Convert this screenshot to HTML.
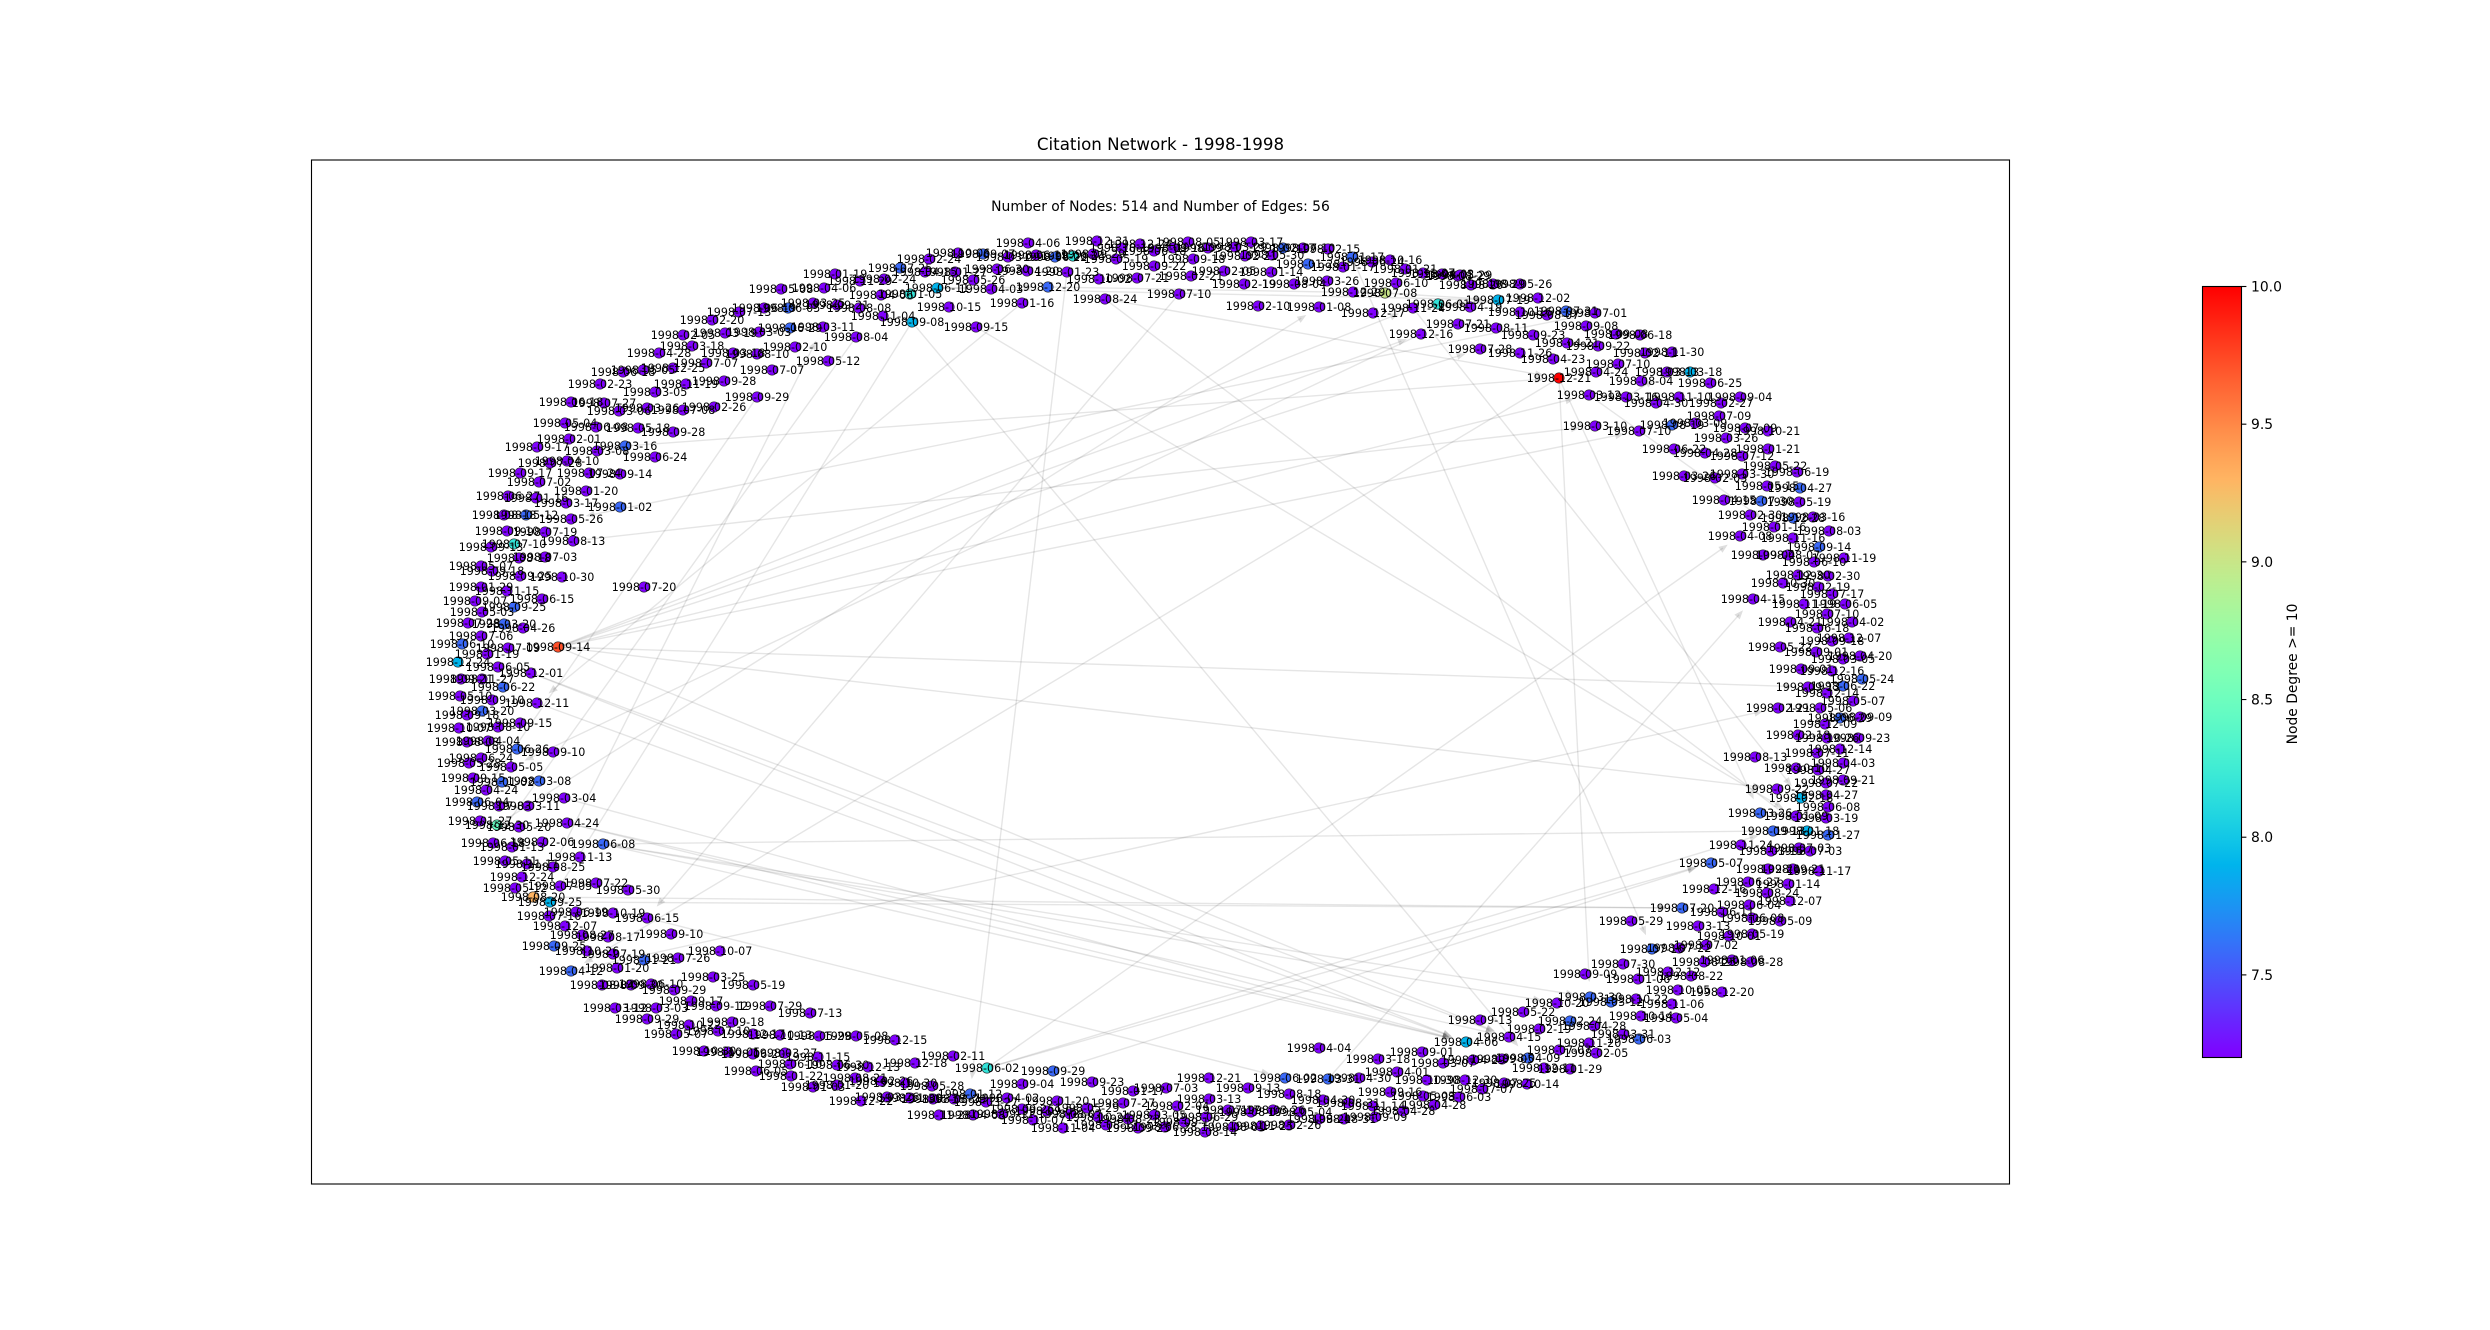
<!DOCTYPE html>
<html lang="en">
<head>
<meta charset="utf-8">
<title>Citation Network - 1998-1998</title>
<style>
html,body{margin:0;padding:0;background:#fff;width:2490px;height:1330px;overflow:hidden}
svg{display:block;font-family:"DejaVu Sans","Liberation Sans",sans-serif}
</style>
</head>
<body>
<svg id="chart" xmlns="http://www.w3.org/2000/svg" width="2490" height="1330" viewBox="0 0 2490 1330">
  <defs>
    <linearGradient id="rainbow-gradient" x1="0" y1="1" x2="0" y2="0"></linearGradient>
  </defs>
  <rect x="0" y="0" width="2490" height="1330" fill="#fff"/>
  <text x="1160.5" y="150" font-size="16.67" text-anchor="middle" fill="#000">Citation Network - 1998-1998</text>
  <text x="1160.5" y="211" font-size="13.89" text-anchor="middle" fill="#000">Number of Nodes: 514 and Number of Edges: 56</text>
  <g id="edges"></g>
  <g id="nodes"></g>
  <g id="labels"></g>
  <rect x="311.5" y="160" width="1698" height="1024" fill="none" stroke="#000" stroke-width="1.1"/>
  <g id="colorbar"></g>
  <text transform="translate(2297 674) rotate(-90)" font-size="13.89" text-anchor="middle" fill="#000">Node Degree &gt;= 10</text>
</svg>
<script>
var nodeDates = [
"1998-12-21","1998-09-14","1998-08-20","1998-06-02","1998-07-08","1998-12-30","1998-09-08","1998-06-01","1998-01-05","1998-07-10",
"1998-03-18","1998-07-19","1998-06-11","1998-12-24","1998-09-25","1998-04-06","1998-02-18","1998-01-18","1998-06-24","1998-12-20",
"1998-11-24","1998-12-16","1998-08-24","1998-09-15","1998-03-16","1998-08-13","1998-03-10","1998-05-26","1998-01-02","1998-04-12",
"1998-05-05","1998-06-08","1998-09-13","1998-03-26","1998-09-22","1998-09-13","1998-07-20","1998-05-07","1998-03-30","1998-07-16",
"1998-01-12","1998-09-29","1998-06-02","1998-03-31","1998-04-09","1998-04-08","1998-06-15","1998-12-01","1998-03-04","1998-07-20",
"1998-04-04","1998-10-20","1998-08-13","1998-02-21","1998-07-28","1998-12-02","1998-03-16","1998-03-12","1998-07-10","1998-06-10",
"1998-02-10","1998-04-15","1998-01-09","1998-07-10","1998-01-17","1998-01-23","1998-07-01","1998-01-16","1998-12-11","1998-06-04",
"1998-06-18","1998-08-04","1998-09-29","1998-04-24","1998-04-15","1998-01-08","1998-08-25","1998-03-11","1998-01-16","1998-03-13",
"1998-11-24",
"1998-04-06","1998-12-31","1998-12-24","1998-08-05","1998-03-17","1998-02-15","1998-07-10","1998-02-17","1998-10-06","1998-09-07",
"1998-03-09","1998-06-19","1998-06-22","1998-09-29","1998-10-19","1998-05-19","1998-06-18","1998-09-16","1998-09-21","1998-03-29",
"1998-02-21","1998-05-30","1998-09-18","1998-09-22","1998-02-05","1998-01-14","1998-01-28","1998-01-17","1998-06-24","1998-10-16",
"1998-01-21","1998-11-07","1998-04-02","1998-08-29","1998-01-27","1998-05-26","1998-06-30","1998-04-20","1998-04-03","1998-10-02",
"1998-07-21","1998-02-21","1998-02-19","1998-08-04","1998-03-26","1998-12-29","1998-12-17","1998-07-21","1998-10-15","1998-02-24",
"1998-07-25","1998-04-15","1998-01-19","1998-11-29","1998-02-24","1998-05-08","1998-04-06","1998-04-06","1998-03-25","1998-09-21",
"1998-06-05","1998-08-08","1998-07-13","1998-06-19","1998-11-04","1998-02-20","1998-06-29","1998-02-05","1998-03-19","1998-03-03",
"1998-03-18","1998-02-10","1998-04-28","1998-03-18","1998-08-10","1998-07-07","1998-12-25","1998-05-05","1998-06-18","1998-07-07",
"1998-05-12","1998-02-23","1998-11-19","1998-09-28","1998-03-05","1998-06-18","1998-07-27","1998-03-06","1998-03-26","1998-07-08",
"1998-02-26","1998-05-04","1998-06-08","1998-05-18","1998-09-28","1998-02-01","1998-09-17","1998-03-08","1998-06-24","1998-04-10",
"1998-07-28","1998-09-17","1998-07-24","1998-09-14","1998-07-02","1998-01-20","1998-06-27","1998-01-16","1998-03-17","1998-08-18",
"1998-05-12","1998-09-10","1998-07-19","1998-09-13","1998-08-18","1998-07-03","1998-05-07","1998-09-18","1998-09-25","1998-10-30",
"1998-01-29","1998-11-15","1998-06-15","1998-09-07","1998-09-25","1998-05-03","1998-07-28","1998-03-20","1998-04-26","1998-07-06",
"1998-06-10","1998-07-09","1998-01-19","1998-06-05","1998-09-21","1998-11-27","1998-06-22","1998-05-10","1998-09-10","1998-03-20",
"1998-09-18","1998-09-15","1998-10-07","1998-08-10","1998-08-08","1998-04-04","1998-06-26","1998-09-10","1998-06-24","1998-05-28",
"1998-09-15","1998-01-02","1998-03-08","1998-04-24","1998-07-03","1998-03-11","1998-01-27","1998-05-20","1998-01-13","1998-02-06",
"1998-11-13","1998-05-11","1998-11-11","1998-12-24","1998-05-12","1998-07-05","1998-07-22","1998-05-30","1998-06-19","1998-10-19",
"1998-07-16","1998-12-07","1998-08-27","1998-08-17","1998-09-10","1998-09-25","1998-10-26","1998-07-19","1998-01-21","1998-07-26",
"1998-10-07","1998-01-20","1998-03-25","1998-05-19","1998-08-04","1998-09-30","1998-06-10","1998-09-29","1998-09-17","1998-09-12",
"1998-07-29","1998-07-13","1998-03-12","1998-03-03","1998-09-29","1998-09-18","1998-10-22","1998-05-07","1998-07-10","1998-12-17",
"1998-10-13","1998-05-29","1998-05-08","1998-12-15","1998-10-30","1998-10-05","1998-06-20","1998-03-27","1998-11-15","1998-06-10",
"1998-06-30","1998-12-13","1998-06-05","1998-01-22","1998-08-21","1998-02-26","1998-10-30","1998-01-03","1998-01-20","1998-12-18",
"1998-02-11","1998-05-28","1998-09-04","1998-09-23","1998-07-03","1998-01-17","1998-12-21","1998-09-13","1998-08-18","1998-04-30",
"1998-08-31","1998-03-27","1998-04-02","1998-12-22","1998-03-26","1998-11-30","1998-06-18","1998-03-29","1998-01-20","1998-07-27",
"1998-03-13","1998-02-04","1998-11-28","1998-04-08","1998-09-11","1998-09-26","1998-09-05","1998-10-07","1998-08-07","1998-05-29",
"1998-11-04","1998-10-24","1998-08-23","1998-08-17","1998-03-05","1998-09-25","1998-06-28","1998-09-17","1998-06-29","1998-07-17",
"1998-08-07","1998-03-26","1998-05-04","1998-08-21","1998-08-31","1998-08-14","1998-08-01","1998-11-25","1998-02-26","1998-03-18",
"1998-09-01","1998-04-30","1998-04-01","1998-03-07","1998-04-29","1998-09-05","1998-10-30","1998-12-30","1998-07-07","1998-07-25",
"1998-10-14","1998-09-16","1998-05-03","1998-06-03","1998-04-28","1998-04-28","1998-11-14","1998-09-09","1998-09-13","1998-05-22",
"1998-02-24","1998-02-19","1998-04-28","1998-11-20","1998-03-31","1998-06-03","1998-07-07","1998-02-05","1998-01-29","1998-12-11",
"1998-03-12","1998-10-22","1998-11-06","1998-10-14","1998-05-04","1998-10-05","1998-12-20","1998-07-30","1998-09-09","1998-01-06",
"1998-12-12","1998-08-22","1998-08-25","1998-01-06","1998-08-28","1998-07-22","1998-07-02","1998-10-01","1998-05-19","1998-05-29",
"1998-03-13","1998-06-11","1998-06-08","1998-05-09","1998-06-04","1998-12-07","1998-12-16","1998-08-24","1998-06-27","1998-01-14",
"1998-02-21","1998-09-21","1998-11-17","1998-03-15","1998-07-03","1998-07-03","1998-01-27","1998-03-19","1998-06-08","1998-04-27",
"1998-07-22","1998-09-21","1998-10-10","1998-04-27","1998-04-03","1998-07-11","1998-12-14","1998-02-18","1998-10-26","1998-09-23",
"1998-12-09","1998-06-29","1998-09-09","1998-05-06","1998-05-07","1998-12-14","1998-06-22","1998-05-24","1998-09-01","1998-12-16",
"1998-03-05","1998-04-20","1998-05-22","1998-09-01","1998-09-18","1998-12-07","1998-06-18","1998-04-21","1998-04-02","1998-07-10",
"1998-11-19","1998-06-05","1998-07-17","1998-02-19","1998-10-30","1998-12-30","1998-02-30","1998-11-19","1998-06-10","1998-08-07",
"1998-09-04","1998-09-14","1998-08-03","1998-11-16","1998-12-28","1998-03-16","1998-02-30","1998-04-15","1998-07-30","1998-05-19",
"1998-05-15","1998-04-27","1998-06-19","1998-05-22","1998-03-30","1998-03-26","1998-02-03","1998-06-22","1998-04-28","1998-07-12",
"1998-01-21","1998-03-26","1998-07-09","1998-10-21","1998-08-19","1998-03-09","1998-07-09","1998-04-30","1998-11-10","1998-02-27",
"1998-09-04","1998-04-24","1998-08-04","1998-06-25","1998-07-10","1998-04-23","1998-11-26","1998-02-11","1998-11-30","1998-04-21",
"1998-09-22","1998-09-23","1998-09-08","1998-06-18","1998-08-11","1998-09-08","1998-10-16","1998-08-07","1998-07-31","1998-04-19",
"1998-05-26","1998-08-29","1998-08-20","1998-05-29"
];
var nodeX = [
559,-442,-467,-13,385,-503,-88,438,-90,-486,
690,498,-63,-542,-450,466,801,807,73,48,
413,421,105,-24,-375,-427,595,-429,-380,-429,
-489,-397,773,760,777,808,682,711,590,652,
-30,53,285,328,528,740,-353,-469,-436,-356,
319,557,755,778,480,538,626,589,639,396,
258,753,796,179,352,67,595,22,-463,-523,
-507,-144,-243,-433,509,319,-447,-177,774,667,
741,
28,97,140,188,251,328,303,283,-42,-17,
8,36,55,93,122,116,154,173,208,235,
245,272,193,154,224,271,308,343,372,390,
405,423,442,458,-45,-27,-3,27,-9,99,
137,191,244,294,327,353,373,458,-51,-71,
-100,-75,-165,-140,-116,-219,-176,-119,-187,-163,
-212,-141,-261,-236,-117,-288,-210,-317,-275,-241,
-308,-205,-341,-267,-243,-294,-327,-357,-377,-228,
-172,-400,-314,-276,-345,-429,-396,-381,-353,-317,
-286,-435,-404,-362,-327,-431,-463,-403,-345,-433,
-450,-480,-411,-380,-461,-414,-492,-464,-434,-496,
-474,-493,-455,-509,-481,-455,-519,-508,-480,-438,
-519,-493,-458,-525,-486,-518,-532,-496,-477,-519,
-538,-492,-513,-502,-539,-518,-497,-540,-508,-518,
-533,-480,-541,-502,-533,-512,-483,-447,-519,-531,
-527,-498,-461,-514,-501,-472,-520,-481,-488,-458,
-420,-495,-473,-478,-485,-440,-404,-372,-424,-387,
-451,-435,-418,-392,-329,-446,-413,-387,-356,-322,
-280,-383,-287,-247,-398,-369,-349,-326,-309,-284,
-230,-190,-385,-344,-353,-268,-311,-324,-282,-247,
-220,-181,-144,-105,-296,-272,-247,-215,-182,-210,
-163,-132,-244,-209,-145,-119,-95,-187,-163,-85,
-47,-68,22,92,166,133,209,248,289,323,
348,-14,7,-139,-113,-90,-67,-46,57,123,
209,177,-61,-27,2,22,47,33,70,87,
63,98,128,106,154,138,165,184,206,228,
251,273,300,319,344,205,233,261,289,378,
422,359,397,443,473,502,427,465,482,504,
527,390,423,459,434,403,373,375,480,523,
570,539,594,589,623,639,559,596,570,544,
611,636,672,641,676,678,722,623,585,638,
668,691,704,732,751,679,706,729,752,631,
698,722,752,780,749,790,714,767,748,788,
768,793,819,771,799,810,828,826,828,826,
826,843,796,818,843,817,840,798,827,858,
825,840,860,820,853,827,843,862,801,832,
843,860,780,816,832,849,817,790,852,827,
804,845,832,818,783,798,828,844,814,788,
763,819,829,793,793,813,750,724,761,799,
767,800,797,775,742,684,715,674,705,742,
768,726,745,768,672,695,719,656,679,721,
740,596,641,710,618,553,520,645,672,567,
598,533,616,640,496,586,520,547,566,470,
520,493,471,460
];
var nodeY = [
622,353,103,-68,707,175,678,696,706,456,
628,700,712,338,98,-42,202,169,744,713,
692,666,701,673,554,459,574,481,493,29,
233,156,169,187,211,313,92,137,3,51,
-94,-71,-78,-79,-58,464,82,327,202,413,
-48,-3,243,292,651,702,603,605,569,717,
694,401,184,706,743,728,687,697,297,198,
157,663,603,177,-37,693,133,673,473,628,
155,
757,759,756,758,758,751,752,752,747,746,
743,745,743,746,752,741,749,752,752,753,
744,745,741,734,729,728,736,733,738,740,
731,727,726,724,728,720,731,729,711,721,
722,724,716,716,719,708,687,676,693,741,
732,728,726,719,721,711,712,705,697,695,
692,692,688,692,684,680,672,665,667,668,
654,653,647,647,646,637,632,630,628,630,
639,616,616,619,608,598,597,589,592,590,
593,577,573,572,568,561,553,549,543,539,
537,527,527,526,518,509,504,502,497,485,
485,469,468,453,442,443,434,429,424,423,
413,409,401,399,393,388,377,376,372,364,
356,352,346,333,321,321,313,304,300,289,
285,277,272,273,258,259,251,248,242,237,
222,218,219,210,194,194,179,173,153,158,
143,139,136,123,112,114,117,110,88,87,
84,74,65,63,66,54,49,46,40,42,
49,32,23,15,15,15,16,10,-1,-6,
-6,-13,-8,-8,-19,-22,-25,-34,-31,-34,
-35,-36,-36,-40,-51,-52,-54,-53,-57,-64,
-65,-67,-71,-76,-78,-81,-83,-87,-85,-63,
-56,-86,-84,-82,-88,-91,-78,-88,-94,-100,
-103,-102,-98,-101,-97,-98,-99,-99,-101,-103,
-99,-106,-115,-115,-114,-109,-111,-120,-114,-108,
-128,-117,-119,-125,-115,-128,-127,-122,-117,-110,
-112,-110,-112,-119,-119,-132,-127,-126,-125,-59,
-52,-78,-72,-63,-60,-59,-80,-80,-89,-83,
-84,-92,-96,-97,-105,-111,-106,-117,-20,-12,
-21,-29,-26,-43,-34,-39,-50,-53,-69,-68,
-2,1,-4,-16,-18,10,8,36,26,21,
28,24,38,40,38,52,55,64,66,79,
74,88,82,79,95,99,111,107,118,116,
131,131,129,149,152,149,165,182,193,205,
217,220,232,230,237,247,251,265,262,262,
276,282,283,292,299,307,314,321,331,329,
341,344,353,348,359,362,372,378,378,386,
396,396,406,413,417,425,424,442,438,445,
445,453,469,462,482,483,485,500,499,498,
514,512,528,534,526,524,522,551,547,544,
551,562,572,569,575,577,584,597,603,597,
603,628,619,617,636,641,647,647,648,657,
654,665,666,665,672,674,688,685,689,693,
716,716,715,725
];
var nodeDegree = [
10,9.72,9.3,8.18,9,8.46,7.9,8.18,8.18,8.18,
7.9,7.9,7.9,7.9,7.9,7.9,7.9,7.9,8.18,7.58,
7.2,7.2,7.2,7.2,7.58,7.2,7.2,7.2,7.58,7.58,
7.2,7.58,7.58,7.58,7.2,7.2,7.58,7.58,7.58,7.58,
7.58,7.58,7.58,7.58,7.58,7.2,7.2,7.2,7.2,7.2,
7.2,7.2,7.2,7.2,7.2,7.2,7.2,7.2,7.2,7.2,
7.2,7.2,7.2,7.2,7.58,7.2,7.2,7.2,7.2,7.58,
7.2,7.2,7.2,7.2,7.2,7.2,7.2,7.2,7.2,7.2,
7.2,
7.2,7.2,7.2,7.2,7.2,7.2,7.2,7.58,7.2,7.58,
7.2,7.2,7.58,7.2,7.2,7.2,7.2,7.2,7.2,7.2,
7.2,7.2,7.2,7.2,7.2,7.2,7.58,7.2,7.2,7.2,
7.2,7.2,7.2,7.2,7.2,7.2,7.2,7.2,7.2,7.2,
7.2,7.2,7.2,7.2,7.2,7.2,7.2,7.2,7.2,7.2,
7.58,7.2,7.2,7.2,7.2,7.2,7.2,7.2,7.2,7.2,
7.58,7.2,7.2,7.2,7.2,7.2,7.58,7.2,7.2,7.2,
7.2,7.2,7.2,7.2,7.2,7.2,7.2,7.2,7.2,7.2,
7.2,7.2,7.2,7.2,7.2,7.2,7.2,7.2,7.2,7.2,
7.2,7.2,7.2,7.2,7.2,7.2,7.2,7.2,7.2,7.2,
7.2,7.2,7.2,7.2,7.2,7.2,7.2,7.2,7.2,7.2,
7.58,7.2,7.2,7.2,7.2,7.2,7.2,7.2,7.2,7.2,
7.2,7.2,7.2,7.2,7.58,7.2,7.2,7.58,7.2,7.2,
7.58,7.2,7.2,7.2,7.2,7.2,7.58,7.2,7.2,7.58,
7.2,7.2,7.2,7.2,7.2,7.2,7.58,7.2,7.2,7.2,
7.2,7.58,7.58,7.2,7.2,7.2,7.2,7.2,7.2,7.2,
7.2,7.2,7.2,7.2,7.2,7.2,7.2,7.2,7.2,7.2,
7.2,7.2,7.2,7.2,7.2,7.58,7.2,7.2,7.58,7.2,
7.2,7.2,7.2,7.2,7.2,7.2,7.2,7.2,7.2,7.2,
7.2,7.2,7.2,7.2,7.2,7.2,7.2,7.2,7.2,7.2,
7.2,7.2,7.2,7.2,7.2,7.2,7.2,7.2,7.2,7.2,
7.2,7.2,7.2,7.2,7.2,7.2,7.2,7.2,7.2,7.2,
7.2,7.2,7.2,7.2,7.2,7.2,7.2,7.2,7.2,7.2,
7.2,7.2,7.2,7.2,7.2,7.2,7.2,7.2,7.2,7.2,
7.2,7.2,7.2,7.2,7.2,7.2,7.2,7.2,7.2,7.2,
7.2,7.2,7.2,7.2,7.2,7.2,7.2,7.2,7.2,7.2,
7.2,7.2,7.2,7.2,7.2,7.2,7.2,7.2,7.2,7.2,
7.2,7.2,7.2,7.2,7.2,7.2,7.2,7.2,7.2,7.2,
7.2,7.2,7.2,7.2,7.2,7.2,7.2,7.2,7.2,7.2,
7.58,7.2,7.2,7.2,7.2,7.58,7.2,7.2,7.2,7.2,
7.58,7.2,7.2,7.2,7.2,7.2,7.2,7.2,7.2,7.2,
7.2,7.2,7.2,7.2,7.2,7.2,7.2,7.2,7.2,7.2,
7.2,7.2,7.2,7.2,7.2,7.2,7.2,7.2,7.2,7.2,
7.2,7.2,7.2,7.2,7.2,7.2,7.58,7.2,7.2,7.2,
7.2,7.2,7.2,7.2,7.2,7.2,7.2,7.2,7.2,7.2,
7.2,7.58,7.2,7.2,7.2,7.2,7.58,7.58,7.2,7.2,
7.2,7.2,7.2,7.2,7.2,7.2,7.2,7.2,7.2,7.2,
7.2,7.2,7.2,7.2,7.2,7.2,7.2,7.2,7.2,7.2,
7.2,7.58,7.2,7.2,7.58,7.2,7.2,7.2,7.58,7.2,
7.2,7.58,7.2,7.2,7.2,7.2,7.2,7.2,7.2,7.2,
7.2,7.2,7.2,7.2,7.58,7.2,7.2,7.2,7.2,7.2,
7.2,7.2,7.2,7.2,7.2,7.2,7.2,7.2,7.2,7.2,
7.2,7.2,7.2,7.2,7.2,7.2,7.2,7.2,7.58,7.2,
7.2,7.2,7.2,7.2
];
var edgeSources = [
24,22,25,1,1,1,1,1,1,0,
0,0,21,64,20,31,31,2,14,3,
3,3,41,65,46,47,48,6,43,72,
71,6,63,23,22,66,19,12,4,57,
56,67,73,5,76,73,31,1,29,11,
12,1,31,47,68,55
];
var edgeTargets = [
0,0,26,35,34,20,21,54,57,29,
38,33,30,39,16,32,51,36,36,37,
32,45,37,40,42,15,15,44,61,69,
70,14,46,62,17,27,4,19,11,78,
79,68,74,75,77,15,15,74,53,7,
11,58,38,74,15,20
];
var colorbarTicks = [7.5, 8.0, 8.5, 9.0, 9.5, 10.0];
var degreeDomain = [7.2, 10];
var xDomain = [-688.5, 1009.5];
var yDomain = [-184, 840];

var SVG_NS = "http://www.w3.org/2000/svg";
var plotBox = {left: 311.5, right: 2009.5, top: 160, bottom: 1184};
var barBox = {left: 2202.5, right: 2241.5, top: 286.5, bottom: 1057.5};

function xScale(v) {
  return plotBox.left + (v - xDomain[0]) / (xDomain[1] - xDomain[0]) * (plotBox.right - plotBox.left);
}
function yScale(v) {
  return plotBox.bottom - (v - yDomain[0]) / (yDomain[1] - yDomain[0]) * (plotBox.bottom - plotBox.top);
}
function barScale(v) {
  return barBox.bottom - (v - degreeDomain[0]) / (degreeDomain[1] - degreeDomain[0]) * (barBox.bottom - barBox.top);
}
function rainbowAt(t) {
  var r = Math.min(1, Math.abs(2 * t - 0.5));
  var g = Math.sin(Math.PI * t);
  var b = Math.cos(Math.PI * t / 2);
  return "rgb(" + Math.round(r * 255) + "," + Math.round(g * 255) + "," + Math.round(Math.max(0, b) * 255) + ")";
}
function degreeColor(d) {
  return rainbowAt((d - degreeDomain[0]) / (degreeDomain[1] - degreeDomain[0]));
}
function make(tag, attrs, parent) {
  var el = document.createElementNS(SVG_NS, tag);
  for (var k in attrs) { el.setAttribute(k, attrs[k]); }
  parent.appendChild(el);
  return el;
}

var edgeLayer = document.getElementById("edges");
var nodeLayer = document.getElementById("nodes");
var labelLayer = document.getElementById("labels");
var barLayer = document.getElementById("colorbar");

edgeSources.forEach(function (src, i) {
  var tgt = edgeTargets[i];
  var x1 = xScale(nodeX[src]), y1 = yScale(nodeY[src]);
  var x2 = xScale(nodeX[tgt]), y2 = yScale(nodeY[tgt]);
  var len = Math.sqrt((x2 - x1) * (x2 - x1) + (y2 - y1) * (y2 - y1)) || 1;
  var ux = (x2 - x1) / len, uy = (y2 - y1) / len;
  var tipX = x2 - ux * 15, tipY = y2 - uy * 15;
  var line = make("line", {
    x1: x1 + ux * 4, y1: y1 + uy * 4, x2: tipX - ux * 6, y2: tipY - uy * 6,
    stroke: "#000", "stroke-opacity": 0.1, "stroke-width": 1.4
  }, edgeLayer);
  
  
  var bx = tipX - ux * 9, by = tipY - uy * 9;
  var head = make("polygon", {
    points: tipX + "," + tipY + " " + (bx - uy * 3.6) + "," + (by + ux * 3.6) + " " + (bx + uy * 3.6) + "," + (by - ux * 3.6),
    fill: "#000", "fill-opacity": 0.13
  }, edgeLayer);
  
  
});

nodeDates.forEach(function (date, i) {
  var cx = xScale(nodeX[i]), cy = yScale(nodeY[i]);
  var dot = make("circle", {
    cx: cx, cy: cy, r: 5.2,
    fill: degreeColor(nodeDegree[i]),
    stroke: "#222", "stroke-width": 0.6
  }, nodeLayer);
  
  
  var label = make("text", {
    x: cx, y: cy, dy: "0.36em",
    "font-size": 11.11, "text-anchor": "middle", fill: "#000"
  }, labelLayer);
  label.textContent = date;
  
  
});

var gradient = document.getElementById("rainbow-gradient");
for (var s = 0; s <= 32; s++) {
  make("stop", {offset: (s / 32), "stop-color": rainbowAt(s / 32)}, gradient);
}
var barFill = make("rect", {
  x: barBox.left, y: barBox.top,
  width: barBox.right - barBox.left, height: barBox.bottom - barBox.top,
  fill: "url(#rainbow-gradient)", stroke: "#000", "stroke-width": 1.1
}, barLayer);



colorbarTicks.forEach(function (tick) {
  var y = barScale(tick);
  var mark = make("line", {
    x1: barBox.right, x2: barBox.right + 4.9, y1: y, y2: y,
    stroke: "#000", "stroke-width": 1.1
  }, barLayer);
  
  
  var text = make("text", {
    x: barBox.right + 9.5, y: y, dy: "0.36em",
    "font-size": 13.89, fill: "#000"
  }, barLayer);
  text.textContent = tick.toFixed(1);
  
  
});
</script>
</body>
</html>
